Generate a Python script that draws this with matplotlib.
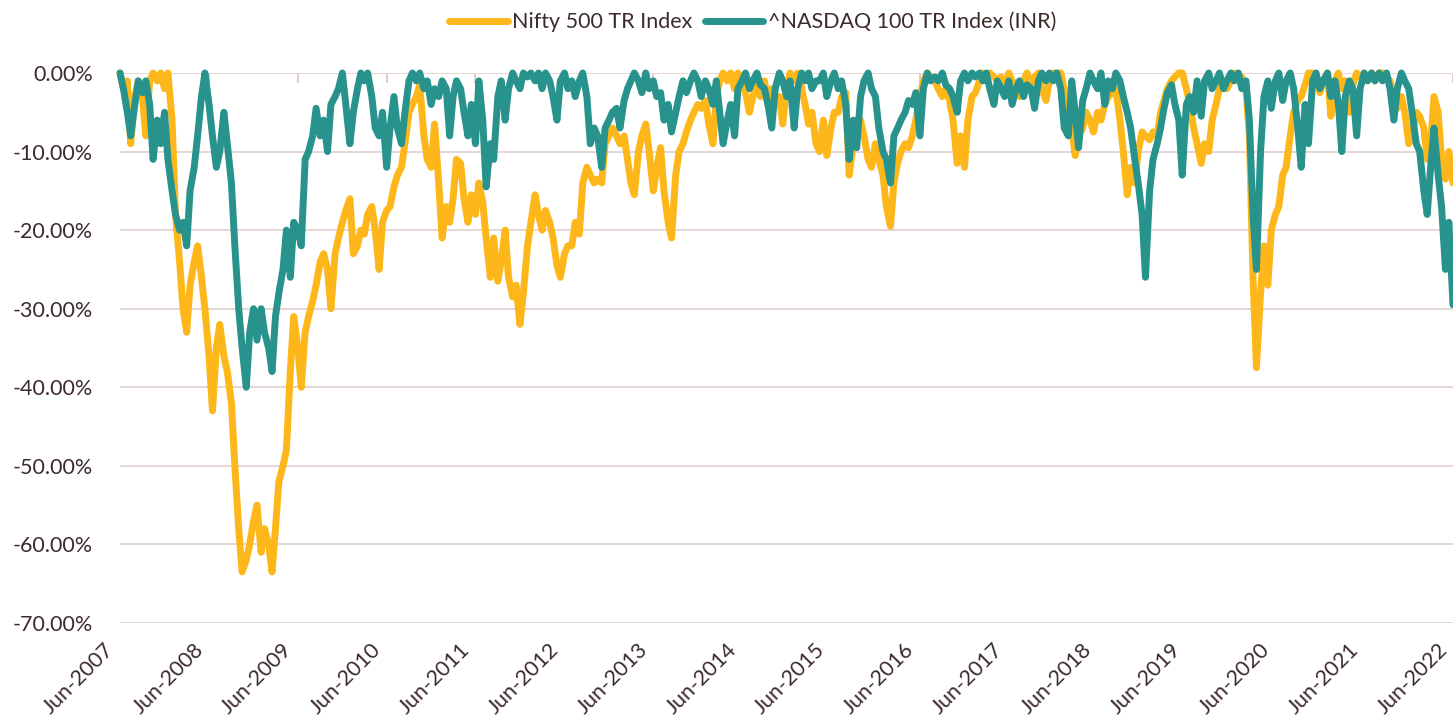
import numpy as np
import matplotlib.pyplot as plt
import matplotlib.transforms as mtransforms
import pandas as pd

# drawdown values (%), one point every half month, Jun-2007 .. Jun-2022
nifty_dd = [
    0, -2, -1, -9, -3, -1, -3, -8, -1, 0, -1, 0, -2, 0, -6, -18, -24, -30, -33, -27, -24, -22, -26, -30,
    -36, -43, -35, -32, -36, -38, -42, -50, -58, -63.5, -62, -60, -57, -55, -61, -58, -60, -63.5, -58, -52, -50, -48, -38, -31,
    -35, -40, -33, -31, -29, -27, -24, -23, -25, -30, -23, -21, -19, -17.5, -16, -23, -22, -20, -20.5, -18, -17, -20, -25, -19,
    -17.5, -17, -14.5, -13, -12, -9, -5, -4, -3, -1.5, -8, -11, -12, -6.5, -14, -21, -17, -19, -16, -11, -11.5, -16, -19, -15.5,
    -18, -14, -16.5, -21, -26, -21, -26.5, -24, -20, -26, -28.5, -27, -32, -28, -22, -19, -15.5, -18, -20, -17.5, -19, -21, -24.5, -26,
    -23, -22, -22, -19, -20.5, -14, -12, -13, -14, -13.5, -14, -9, -8, -7, -8, -9, -8, -11, -14, -15.5, -10, -8, -6.5, -10,
    -15, -12, -9.5, -15, -19, -21, -13, -10, -9, -7.5, -6, -5, -4, -4.5, -3.5, -6.5, -9, -3, -1, 0, -1, 0, -2, 0,
    -1, -2.5, -5, -3, -1.5, -3, -1, -4, -2, -4, -3, -6.5, -2, 0, -1, 0, -2, -4, -6.5, -5, -9, -10, -6, -10.5,
    -7, -5, -5, -3, -2.5, -13, -9, -8, -6, -8, -11, -12, -9, -11, -13, -17, -19.5, -14, -11.5, -10, -9, -9.5, -8, -6,
    -3, -1, 0, -0.5, -1, -2, -3, -2, -3.5, -6, -11.5, -8, -12, -6, -3, -2.5, -1, 0, -1, 0, -0.5, -1, -0.5, -2,
    0, -1, -1.5, -3, -1, 0, -1.5, -0.5, 0, -2, -3.5, -1, 0, 0, 0, -2, -4, -7, -10.5, -8, -7, -5, -6, -7.5,
    -5, -6, -4, -3, -2.5, -2, -6, -10, -15.5, -12, -14, -10, -7.5, -8, -8.5, -7.5, -8, -5, -3.5, -2, -1, -0.5, 0, 0,
    -2, -4, -7, -9, -11.5, -9, -10, -6, -4, -2, -1, -2, -1, 0, -1, -0.5, -2, -8, -26, -37.5, -28, -22, -27, -20,
    -18, -17, -13, -12, -8, -5, -3.5, -3, -1.5, 0, 0, -1, -2.5, -1, 0, -5.5, -1, 0, -2, -1, -5, -1.5, 0, -0.5,
    0, -1, 0, -1, 0, 0, -0.5, -1, -3, -4.5, -3, -5, -9, -8, -5, -5.5, -7, -11, -9, -3, -5, -11, -13.5, -10,
    -14,
]

nasdaq_dd = [
    0, -2, -5, -8, -4, -1, -2.5, -1, -4, -11, -6, -9, -5, -11, -15, -18, -20, -19, -22, -15, -12, -8, -3, 0,
    -4, -8, -12, -10, -5, -9, -14, -22, -30, -35, -40, -33, -30, -34, -30, -33, -35, -38, -31, -28, -25, -20, -26, -19,
    -20, -22, -11, -10, -8, -4.5, -8, -6, -10, -4, -3, -2, 0, -4, -9, -5, -2, 0, -1, 0, -3, -7, -8, -5,
    -12, -7, -3, -7, -9, -5, -1, 0, -1, 0, -2, -1, -4, -2, -3, -1, -2, -8, -3, -1, -2, -5, -8, -4,
    -9, -1, -6, -14.5, -9, -11, -3, -1, -6, -2, 0, -1, -2, 0, -0.5, 0, -1, 0, -2, 0, -1, -3, -6, -1,
    0, -2, -1, -3, -1, 0, -3, -9, -7, -8, -12, -7, -6, -5, -4.5, -7, -3.5, -2, -1, 0, -1, -2.5, 0, -2,
    -1, -3, -2.5, -6, -4, -7.5, -5, -3, -1, -2.5, -1, 0, -1, -3, -1, -2, -4, -1, -5, -9, -6, -4, -8, -2,
    -1, 0, -2, -1, 0, -1.5, -2, -4, -7, -2, 0, -1, -3, -1, -7, -2, 0, -1, 0, -2, -1, -1, 0, -3,
    -1, 0, -2, -1, -4, -11, -6, -9.5, -3, -1, 0, -2, -3, -7, -10, -11, -14, -8, -7, -6, -5, -3.5, -4, -2.5,
    -8, -2, 0, -1, -0.5, -1, 0, -1.5, -2, -3, -5, -1, 0, -1, 0, -0.5, 0, -1, 0, -2, -4, -1, -2, -3,
    -1, -4, -2, -1, -3, -1.5, -2, -4.5, -1, 0, -1, 0, -1, 0, -2, -7, -8, -1, -5, -9.5, -3.5, -2, 0, -1,
    -2, 0, -4, -1, -2, 0, -1, -3, -5, -7, -11, -14, -18, -26, -15, -11, -9, -7, -4.5, -2.5, -1.5, -4, -6, -13,
    -4, -3, -5, -1, -5.5, -1, 0, -2, -1, 0, -2, -1, 0, -1, 0, -2, -1, -6, -18, -25, -10, -3, -1, -4.5,
    -1, 0, -3.5, -1, 0, -2, -7, -12, -4, -9, -1, 0, -2, -1, 0, -3, -1, -4, -10, -3, -1, -2, -8, -2,
    0, -1, 0, -1, 0, -1, 0, -2, -6, -2, 0, -1, -2, -5, -9, -10, -15, -18, -12, -7, -13, -17, -25, -19,
    -29.5,
]

dates = pd.date_range("2007-06-01", periods=len(nifty_dd), freq="SMS")
tick_dates = pd.date_range("2007-06-01", "2022-06-01", freq="12MS")
y_ticks = np.arange(-70, 1, 10)

text_col = "#3D2B2B"
grid_col = "#E6D6D6"
fs = 15.5

plt.rcParams["font.family"] = ["Lato", "DejaVu Sans"]

fig = plt.figure(figsize=(14.53, 7.17), dpi=100)
ax = fig.add_axes([120 / 1453, 1 - 623 / 717, 1 - 120 / 1453, 550 / 717])

ax.plot(dates, nifty_dd, color="#FDB71A", lw=5, solid_joinstyle="round",
        solid_capstyle="round", clip_on=False, label="Nifty 500 TR Index")
ax.plot(dates, nasdaq_dd, color="#28938C", lw=5, solid_joinstyle="round",
        solid_capstyle="round", clip_on=False, label="^NASDAQ 100 TR Index (INR)")

ax.set_xlim(tick_dates[0], tick_dates[-1])
ax.set_ylim(-70, 0)
ax.set_yticks(y_ticks)
ax.set_yticklabels([f"{v:.2f}%" for v in y_ticks])
ax.set_xticks(tick_dates)
ax.set_xticklabels([d.strftime("%b-%Y") for d in tick_dates], rotation=45,
                   ha="right", rotation_mode="anchor")

ax.grid(axis="y", color=grid_col, lw=1.4)
ax.set_axisbelow(True)
for s in ax.spines.values():
    s.set_visible(False)

ax.tick_params(axis="y", length=0, pad=19.5, labelsize=fs, labelcolor=text_col)
ax.tick_params(axis="x", bottom=False, top=True, direction="in", length=7,
               color="#D8C4C4", width=1.2, labelbottom=True, labeltop=False,
               pad=12, labelsize=fs, labelcolor=text_col)

# nudge the slanted labels to the left so the last one fits
# (after tick_params, which resets the label transforms)
shift = mtransforms.ScaledTranslation(-16 / 100, 0, fig.dpi_scale_trans)
for lab in ax.get_xticklabels():
    lab.set_transform(lab.get_transform() + shift)

fig.legend(loc="upper center", bbox_to_anchor=(0.518, 1.01), ncol=2, frameon=False,
           fontsize=fs, labelcolor=text_col, handlelength=2.7, handletextpad=0.2,
           columnspacing=0.6)

fig.savefig("out.png", dpi=100)
